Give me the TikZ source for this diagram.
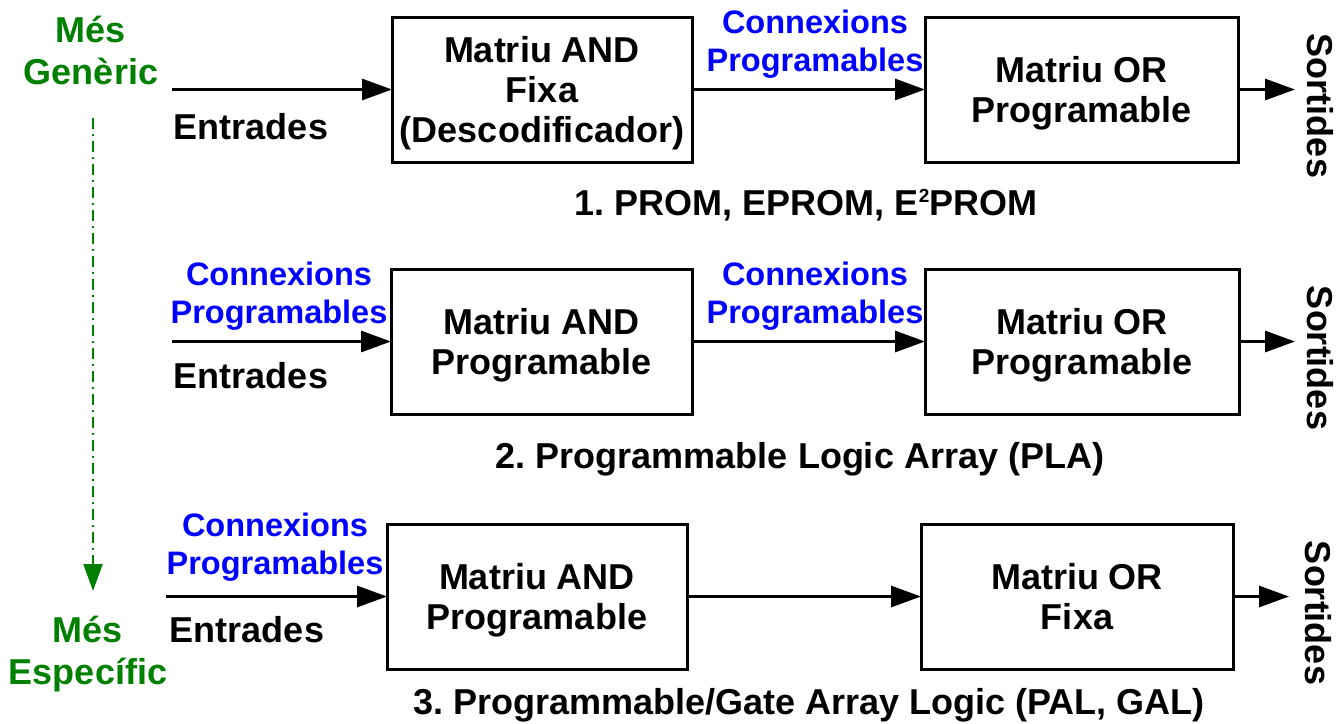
\documentclass[tikz,border=0pt]{standalone}
\usepackage{fontspec}
\setmainfont{Liberation Sans}
\usetikzlibrary{arrows.meta}
\definecolor{progblue}{RGB}{0,0,255}
\definecolor{levelgreen}{RGB}{0,128,0}
\frenchspacing
\begin{document}
\begin{tikzpicture}[x=1pt,y=-1pt,
  every node/.style={inner sep=0pt,outer sep=0pt,align=center,
    font=\bfseries\fontsize{36}{40}\selectfont},
  block/.style={draw,line width=3pt,minimum height=145pt,text depth=0pt},
  andbox/.style={block,minimum width=300pt},
  orbox/.style={block,minimum width=313pt},
  flow/.style={line width=3pt,-{Triangle[length=30pt,width=21pt]}},
  conn/.style={text=progblue,font=\bfseries\fontsize{32.5}{38}\selectfont},
  level/.style={text=levelgreen,font=\bfseries\fontsize{36}{42}\selectfont},
  outlabel/.style={rotate=-90},
  trend/.style={draw=levelgreen,line width=2pt,
    dash pattern=on 11pt off 5pt on 2pt off 5pt,
    -{Triangle[length=27pt,width=19pt]}}
]
\useasboundingbox (0,0) rectangle (1343,723);

% --- 1. PROM family ---
\node[andbox] (and1) at (542,89.5) {Matriu AND\\Fixa\\(Descodificador)};
\node[orbox]  (or1)  at (1081.5,89.5) {Matriu OR\\Programable};
\coordinate (in1) at (172,89.5);
\coordinate (out1) at (1295,89.5);
\draw[flow] (in1) -- (and1.west);
\draw[flow] (and1.east) -- (or1.west);
\draw[flow] (or1.east) -- (out1);
\node (ent1) at (251,127) {Entrades};
\node[conn] (con1) at (815,44) {Connexions\\Programables};
\node[outlabel] (sor1) at (1320,106) {Sortides};
\node (cap1) at (806,205) {1. PROM, EPROM, E\raisebox{13pt}{\fontsize{19}{19}\selectfont 2}PROM};

% --- 2. PLA ---
\node[andbox,minimum width=301pt] (and2) at (541.5,341.5) {Matriu AND\\Programable};
\node[orbox,minimum width=314pt]  (or2)  at (1082,341.5) {Matriu OR\\Programable};
\coordinate (in2) at (172,341.5);
\coordinate (out2) at (1295,341.5);
\draw[flow] (in2) -- (and2.west);
\draw[flow] (and2.east) -- (or2.west);
\draw[flow] (or2.east) -- (out2);
\node (ent2) at (251,376) {Entrades};
\node[conn] (con2a) at (279,296) {Connexions\\Programables};
\node[conn] (con2b) at (815,296) {Connexions\\Programables};
\node[outlabel] (sor2) at (1320,358) {Sortides};
\node (cap2) at (800,459) {2. Programmable Logic Array (PLA)};

% --- 3. PAL / GAL ---
\node[andbox] (and3) at (537,596.5) {Matriu AND\\Programable};
\node[orbox,minimum width=312pt] (or3) at (1077,596.5) {Matriu OR\\Fixa};
\coordinate (in3) at (166,596.5);
\coordinate (out3) at (1289,596.5);
\draw[flow] (in3) -- (and3.west);
\draw[flow] (and3.east) -- (or3.west);
\draw[flow] (or3.east) -- (out3);
\node (ent3) at (247,630) {Entrades};
\node[conn] (con3) at (275,547) {Connexions\\Programables};
\node[outlabel] (sor3) at (1318,613) {Sortides};
\node (cap3) at (809,705) {3. Programmable/Gate Array Logic (PAL, GAL)};

% --- generic to specific scale ---
\node[level] (gen) at (91,50) {Més\\Genèric};
\node[level] (spe) at (88,654) {Més\\Específic};
\coordinate (ttop) at (93,118);
\coordinate (tbot) at (93,591);
\draw[trend] (ttop) -- (tbot);
\end{tikzpicture}
\end{document}
